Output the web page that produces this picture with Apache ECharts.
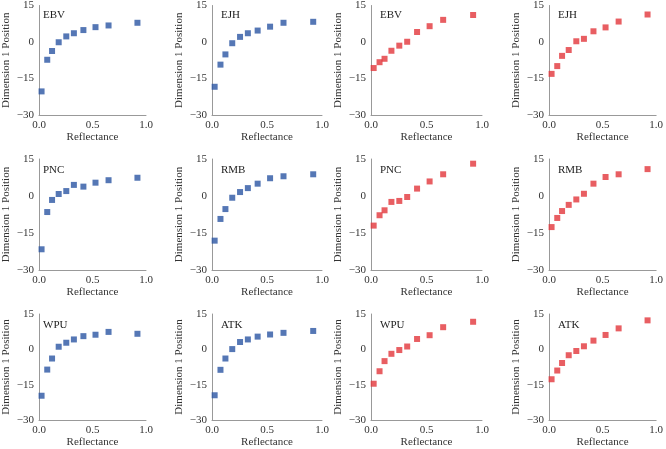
<!DOCTYPE html>
<html>
<head>
<meta charset="utf-8">
<script src="https://cdn.jsdelivr.net/npm/echarts@6/dist/echarts.min.js"></script>
<style>html,body{margin:0;padding:0;background:#fff;}#c{width:666px;height:449px;}</style>
</head>
<body>
<div id="c"></div>
<script>
const reflectance = [0.024, 0.077, 0.122, 0.184, 0.255, 0.326, 0.415, 0.528, 0.65, 0.92];
const panelNames = ['EBV', 'EJH', 'EBV', 'EJH', 'PNC', 'RMB', 'PNC', 'RMB', 'WPU', 'ATK', 'WPU', 'ATK'];
const panelGroup = ['blue', 'blue', 'red', 'red', 'blue', 'blue', 'red', 'red', 'blue', 'blue', 'red', 'red'];
const ebvBlue = [-20.3, -7.3, -3.7, -0.1, 2.3, 3.6, 4.9, 6.1, 6.8, 7.9];
const ejhBlue = [-18.4, -9.3, -5.1, -0.5, 2.1, 3.6, 4.7, 6.3, 7.9, 8.3];
const ebvRed = [-10.7, -8.3, -6.9, -3.6, -1.5, 0.1, 4.1, 6.5, 9.1, 11.1];
const ejhRed = [-13.1, -9.9, -5.7, -3.3, 0.3, 1.3, 4.4, 6.0, 8.4, 11.3];
const pncBlue = [-21.6, -6.5, -1.6, 0.8, 2.0, 4.5, 3.8, 5.4, 6.4, 7.4];
const rmbBlue = [-18.1, -9.3, -5.3, -0.7, 1.6, 3.2, 5.0, 7.2, 8.0, 8.8];
const pncRed = [-12.0, -7.8, -5.8, -2.4, -2.0, -0.4, 3.0, 5.9, 8.8, 13.1];
const rmbRed = [-12.6, -8.9, -6.1, -3.6, -1.4, 0.9, 5.0, 7.7, 8.8, 10.9];
const wpuBlue = [-19.7, -8.6, -3.9, 1.1, 2.8, 4.2, 5.6, 6.2, 7.4, 6.6];
const atkBlue = [-19.5, -8.7, -3.9, 0.1, 3.1, 4.2, 5.4, 6.3, 7.0, 7.8];
const wpuRed = [-14.6, -9.3, -5.0, -1.9, -0.3, 1.2, 4.4, 6.0, 9.4, 11.7];
const atkRed = [-12.7, -9.0, -5.8, -2.5, -0.7, 1.3, 3.7, 6.1, 8.9, 12.3];
const panelValues = [ebvBlue, ejhBlue, ebvRed, ejhRed, pncBlue, rmbBlue, pncRed, rmbRed, wpuBlue, atkBlue, wpuRed, atkRed];
const xTicks = [0, 0.5, 1.0];
const yTicks = [-30, -15, 0, 15];

const colors = { blue: '#2a55a2', red: '#e2363b' };
const colLeft = [34, 212, 371, 549];
const colWidth = [112, 110, 111, 113];
const rowTop = [4, 159, 314];
const rowHeight = [111, 111, 112];
const font = 'Liberation Serif, Times New Roman, serif';

const grid = [], xAxis = [], yAxis = [], series = [], title = [];
for (let i = 0; i < 12; i++) {
  const r = Math.floor(i / 4), c = i % 4;
  grid.push({ left: colLeft[c], top: rowTop[r], width: colWidth[c], height: rowHeight[r] });
  xAxis.push({
    gridIndex: i, type: 'value', min: 0, max: 1, interval: 0.5,
    name: 'Reflectance', nameLocation: 'middle', nameGap: 17,
    nameTextStyle: { fontFamily: font, fontSize: 11, color: '#333' },
    axisLine: { show: true, onZero: false, lineStyle: { color: '#999', width: 1 } },
    axisTick: { show: false }, splitLine: { show: false },
    axisLabel: { fontFamily: font, fontSize: 11, color: '#333', margin: 5,
      formatter: v => v.toFixed(1) }
  });
  yAxis.push({
    gridIndex: i, type: 'value', min: -30, max: 15, interval: 15,
    name: 'Dimension 1 Position', nameLocation: 'middle', nameGap: 27, nameRotate: 90,
    nameTextStyle: { fontFamily: font, fontSize: 11, color: '#333' },
    axisLine: { show: true, onZero: false, lineStyle: { color: '#999', width: 1 } },
    axisTick: { show: false }, splitLine: { show: false },
    axisLabel: { fontFamily: font, fontSize: 11, color: '#333', margin: 5,
      formatter: v => String(v).replace('-', '\u2212') }
  });
  series.push({
    type: 'scatter', xAxisIndex: i, yAxisIndex: i, symbol: 'rect', symbolSize: 6,
    itemStyle: { color: colors[panelGroup[i]] },
    data: reflectance.map((x, k) => [x, panelValues[i][k]])
  });
  title.push({
    text: panelNames[i], left: colLeft[c] + 4, top: rowTop[r] + 1,
    textStyle: { fontFamily: font, fontSize: 11, fontWeight: 'normal', color: '#222' }
  });
}

const chart = echarts.init(document.getElementById('c'), null, { renderer: 'canvas' });
chart.setOption({ animation: false, backgroundColor: '#fff', title, grid, xAxis, yAxis, series });
</script>
</body>
</html>
